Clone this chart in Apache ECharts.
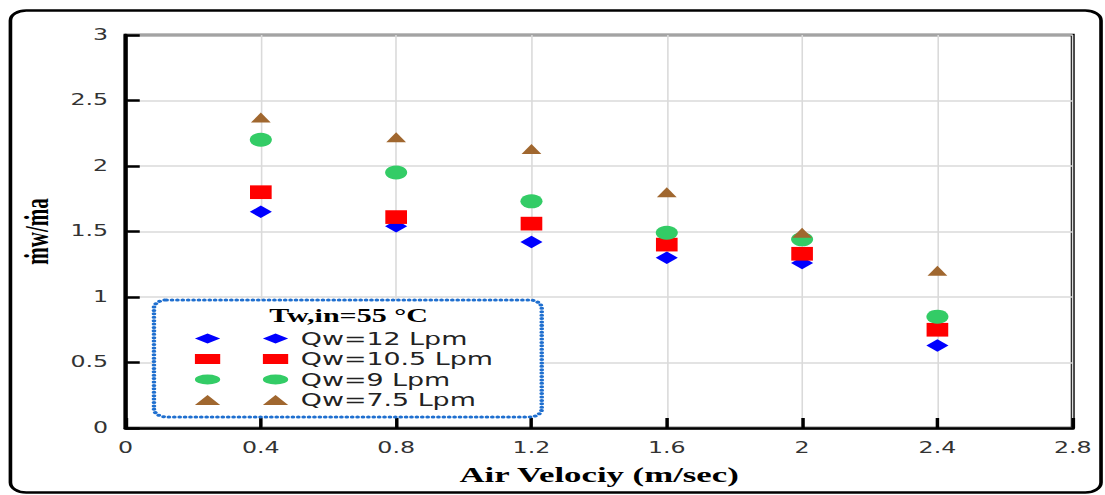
<!DOCTYPE html>
<html>
<head>
<meta charset="utf-8">
<script src="https://cdn.jsdelivr.net/npm/echarts@6/dist/echarts.min.js"></script>
<style>
    html, body { margin: 0; padding: 0; background: #ffffff; overflow: hidden; }
    /* the original figure is stretched sideways, so the chart is drawn narrow and widened */
    #chart {
        width: 699px;
        height: 495px;
        transform: scaleX(1.5808);
        transform-origin: 0 0;
    }
</style>
</head>
<body>
<div id="chart"></div>
<script>
    const airVelocity = [0.4, 0.8, 1.2, 1.6, 2.0, 2.4]
    const qw12 = [1.65, 1.54, 1.42, 1.30, 1.26, 0.63]
    const qw105 = [1.80, 1.61, 1.56, 1.40, 1.33, 0.75]
    const qw9 = [2.20, 1.95, 1.73, 1.49, 1.44, 0.85]
    const qw75 = [2.37, 2.22, 2.13, 1.80, 1.49, 1.20]
    const seriesNames = ['Qw=12 Lpm', 'Qw=10.5 Lpm', 'Qw=9 Lpm', 'Qw=7.5 Lpm']

    const pairs = (ys) => airVelocity.map((x, i) => [x, ys[i]])

    // legend icons: two markers side by side, like the Excel legend
    const iconDiamond = 'path://M0,5L8,0L16,5L8,10Z M43,5L51,0L59,5L51,10Z'
    const iconSquare = 'path://M0,0H16V10H0Z M43,0H59V10H43Z'
    const iconCircle = 'path://M0,5A8,5 0 1,1 16,5A8,5 0 1,1 0,5Z M43,5A8,5 0 1,1 59,5A8,5 0 1,1 43,5Z'
    const iconTriangle = 'path://M0,10L8,0L16,10Z M43,10L51,0L59,10Z'

    const chart = echarts.init(document.getElementById('chart'), null, { renderer: 'svg' })
    chart.setOption({
        animation: false,
        backgroundColor: '#ffffff',
        grid: {
            left: 79.4,
            right: 20.4,
            top: 35,
            bottom: 67,
            show: true,
            borderColor: '#000000',
            borderWidth: 2.5
        },
        xAxis: {
            type: 'value',
            min: 0,
            max: 2.8,
            interval: 0.4,
            name: 'Air Velociy (m/sec)',
            nameLocation: 'middle',
            nameGap: 35,
            nameTextStyle: {
                fontFamily: 'Liberation Serif',
                fontWeight: 'bold',
                fontSize: 22,
                color: '#000000'
            },
            axisLine: { show: true, lineStyle: { color: '#000000', width: 2.5 } },
            axisTick: { show: true, inside: true, length: 10, lineStyle: { color: '#000000', width: 2.2 } },
            axisLabel: { fontFamily: 'DejaVu Sans', fontSize: 15, color: '#333333', margin: 13 },
            splitLine: { show: true, lineStyle: { color: '#dadada', width: 1.0 } }
        },
        yAxis: {
            type: 'value',
            min: 0,
            max: 3,
            interval: 0.5,
            name: 'ṁw/ṁa',
            nameLocation: 'middle',
            nameRotate: 90,
            nameGap: 42,
            nameTextStyle: {
                fontFamily: 'Liberation Serif',
                fontWeight: 'bold',
                fontSize: 21,
                color: '#000000'
            },
            axisLine: { show: true, lineStyle: { color: '#000000', width: 2.5 } },
            axisTick: { show: true, inside: true, length: 9, lineStyle: { color: '#000000', width: 2.5 } },
            axisLabel: { fontFamily: 'DejaVu Sans', fontSize: 15, color: '#333333', margin: 11 },
            splitLine: { show: true, lineStyle: { color: '#dadada', width: 1.5 } }
        },
        legend: {
            orient: 'vertical',
            left: 118.3,
            top: 325,
            itemWidth: 59,
            itemHeight: 11,
            itemGap: 3.5,
            z: 6,
            textStyle: { fontFamily: 'DejaVu Sans', fontSize: 17, color: '#222222', padding: [0, 0, 0, 3] },
            data: [
                { name: seriesNames[0], icon: iconDiamond },
                { name: seriesNames[1], icon: iconSquare },
                { name: seriesNames[2], icon: iconCircle },
                { name: seriesNames[3], icon: iconTriangle }
            ]
        },
        graphic: [
            {
                type: 'rect',
                shape: { x: 6.6, y: 10.5, width: 689.9, height: 482, r: 10 },
                style: { fill: 'none', stroke: '#000000', lineWidth: 2.3 },
                z: 1
            },
            {
                type: 'rect',
                shape: { x: 97.4, y: 300, width: 245.3, height: 117, r: 8 },
                style: { fill: '#ffffff', stroke: '#1f6fcf', lineWidth: 3, lineDash: [0.01, 3.4], lineCap: 'round' },
                z: 5
            },
            {
                type: 'text',
                x: 220.5,
                y: 316,
                style: {
                    text: 'Tw,in=55 °C',
                    font: 'bold 19px "Liberation Serif"',
                    fill: '#000000',
                    align: 'center',
                    verticalAlign: 'middle'
                },
                z: 6
            }
        ],
        series: [
            {
                name: seriesNames[0],
                type: 'scatter',
                symbol: 'diamond',
                symbolSize: [14, 12.5],
                itemStyle: { color: '#0000ff', opacity: 1 },
                data: pairs(qw12)
            },
            {
                name: seriesNames[1],
                type: 'scatter',
                symbol: 'rect',
                symbolSize: [13.7, 13.7],
                itemStyle: { color: '#ff0000', opacity: 1 },
                data: pairs(qw105)
            },
            {
                name: seriesNames[2],
                type: 'scatter',
                symbol: 'circle',
                symbolSize: [14, 14],
                itemStyle: { color: '#33cc66', opacity: 1 },
                data: pairs(qw9)
            },
            {
                name: seriesNames[3],
                type: 'scatter',
                symbol: 'triangle',
                symbolSize: [12.5, 10],
                itemStyle: { color: '#a0672f', opacity: 1 },
                data: pairs(qw75)
            }
        ]
    })
</script>
</body>
</html>
